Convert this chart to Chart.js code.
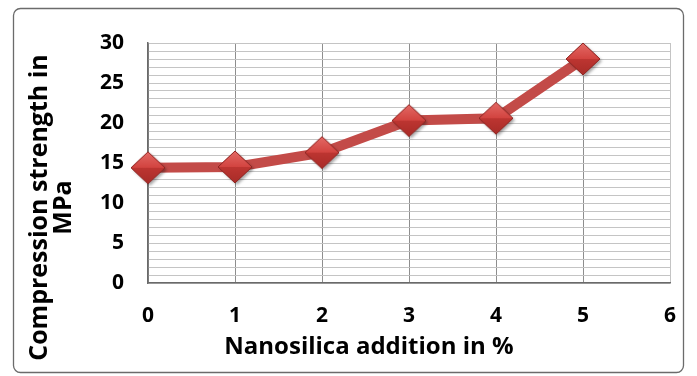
<!DOCTYPE html>
<html><head><meta charset="utf-8">
<script src="https://cdn.jsdelivr.net/npm/chart.js@4"></script>
<style>html,body{margin:0;padding:0;background:#fff;} #wrap{width:697px;height:376px;position:relative}</style>
</head><body><div id="wrap"><canvas id="c"></canvas></div>
<script>
// ---- data ----
const xValues = [0, 1, 2, 3, 4, 5];
const strength = [14.4, 14.5, 16.3, 20.3, 20.6, 28.0];
const yTickLabels = [0, 5, 10, 15, 20, 25, 30];
const xTickLabels = [0, 1, 2, 3, 4, 5, 6];
const yTitle = ['Compression strength in', 'MPa'];
const xTitle = 'Nanosilica addition in %';

const FONT = '"Open Sans"';

// beveled diamond marker image
function makeMarker() {
  const cv = document.createElement('canvas');
  cv.width = 44; cv.height = 42;
  const c = cv.getContext('2d');
  const cx = 22, cy = 21, hw = 17, hh = 16;
  c.save();
  c.shadowColor = 'rgba(0,0,0,0.35)';
  c.shadowOffsetX = 2; c.shadowOffsetY = 2; c.shadowBlur = 3;
  c.beginPath();
  c.moveTo(cx - hw, cy); c.lineTo(cx, cy - hh); c.lineTo(cx + hw, cy); c.lineTo(cx, cy + hh); c.closePath();
  c.fillStyle = '#b8322e';
  c.fill();
  c.restore();
  let g = c.createLinearGradient(0, cy - hh, 0, cy);
  g.addColorStop(0, '#e36a66'); g.addColorStop(1, '#d2433f');
  c.beginPath();
  c.moveTo(cx - hw, cy); c.lineTo(cx, cy - hh); c.lineTo(cx + hw, cy); c.closePath();
  c.fillStyle = g; c.fill();
  g = c.createLinearGradient(0, cy, 0, cy + hh);
  g.addColorStop(0, '#bd3531'); g.addColorStop(1, '#a82c28');
  c.beginPath();
  c.moveTo(cx - hw, cy); c.lineTo(cx + hw, cy); c.lineTo(cx, cy + hh); c.closePath();
  c.fillStyle = g; c.fill();
  c.beginPath();
  c.moveTo(cx - hw, cy); c.lineTo(cx, cy - hh); c.lineTo(cx + hw, cy); c.lineTo(cx, cy + hh); c.closePath();
  c.strokeStyle = '#8e2724'; c.lineWidth = 1; c.stroke();
  return cv;
}
const marker = makeMarker();

const framePlugin = {
  id: 'frame',
  beforeDraw(chart) {
    const ctx = chart.ctx;
    ctx.save();
    ctx.fillStyle = '#fff';
    ctx.fillRect(0, 0, chart.width, chart.height);
    ctx.beginPath();
    ctx.roundRect(13.5, 8.5, chart.width - 27, chart.height - 12, 7);
    ctx.strokeStyle = '#6b6b6b';
    ctx.lineWidth = 1.3;
    ctx.stroke();
    ctx.restore();
  }
};

const titlePlugin = {
  id: 'axisTitles',
  afterDraw(chart) {
    const ctx = chart.ctx;
    ctx.save();
    ctx.fillStyle = '#000';
    ctx.textAlign = 'center';
    ctx.textBaseline = 'middle';
    ctx.font = 'bold 24px ' + FONT;
    ctx.fillText(xTitle, 369, 347);
    ctx.font = 'bold 25px ' + FONT;
    ctx.translate(40, 207.5);
    ctx.rotate(-Math.PI / 2);
    yTitle.forEach((t, i) => ctx.fillText(t, 0, i * 24));
    ctx.restore();
  }
};

new Chart(document.getElementById('c'), {
  type: 'line',
  data: {
    datasets: [{
      data: xValues.map((x, i) => ({ x: x, y: strength[i] })),
      borderColor: '#c34b48',
      borderWidth: 10,
      pointStyle: marker,
      pointRadius: 16,
      tension: 0,
      clip: false
    }]
  },
  options: {
    responsive: true,
    maintainAspectRatio: false,
    animation: false,
    devicePixelRatio: 1,
    layout: { padding: { left: 0, top: 43, right: 27, bottom: 0 } },
    plugins: { legend: { display: false }, tooltip: { enabled: false } },
    scales: {
      x: {
        type: 'linear',
        min: xTickLabels[0],
        max: xTickLabels[xTickLabels.length - 1],
        afterFit(s) { s.height = 93; },
        ticks: {
          stepSize: 1,
          autoSkip: false,
          maxRotation: 0,
          padding: 20,
          color: '#000',
          font: { family: FONT, size: 21, weight: 'bold' },
          callback: v => xTickLabels.includes(v) ? String(v) : ''
        },
        grid: {
          drawTicks: false,
          color: c => (c.tick && c.tick.value === 6) ? '#c4c4c4' : '#8e8e8e',
          lineWidth: 1
        },
        border: { display: true, color: '#6a6a6a', width: 1.5 }
      },
      y: {
        min: 0,
        max: 30,
        afterFit(s) { s.width = 148; },
        ticks: {
          stepSize: 1,
          autoSkip: false,
          maxTicksLimit: 100,
          padding: 24,
          color: '#000',
          font: { family: FONT, size: 21, weight: 'bold' },
          callback: v => yTickLabels.includes(v) ? String(v) : ''
        },
        grid: {
          drawTicks: false,
          color: '#c4c4c4',
          lineWidth: 1
        },
        border: { display: true, color: '#6a6a6a', width: 1.5 }
      }
    }
  },
  plugins: [framePlugin, titlePlugin]
});
</script>
</body></html>
